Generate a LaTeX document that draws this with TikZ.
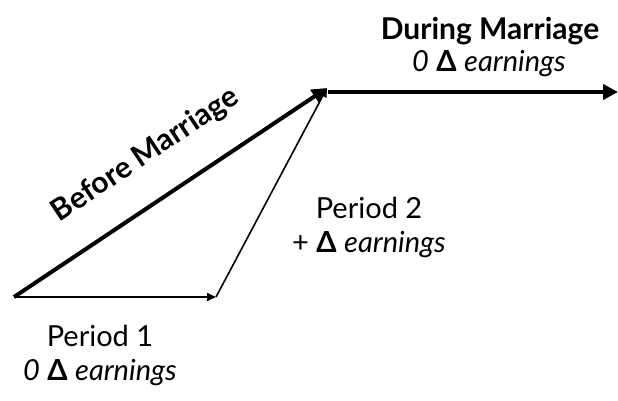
\documentclass[tikz,border=0pt]{standalone}
\usepackage{fontspec}
\setmainfont{Lato}
\usetikzlibrary{arrows.meta}

\begin{document}
\begin{tikzpicture}[x=1pt, y=-1pt]

  \tikzstyle{thickarr} = [line width=4pt, -{Triangle[length=15pt,width=15pt]}]
  \tikzstyle{thinarr}  = [line width=1.6pt, -{Triangle[length=9pt,width=8pt]}]
  \tikzstyle{lbl}      = [align=center, font=\fontsize{29}{34}\selectfont]
  \tikzstyle{hlbl}     = [font=\fontsize{30}{34}\selectfont\bfseries]

  \useasboundingbox (0,0) rectangle (618,400);

  % ---- POINTS ----
  \coordinate (start) at (14,297);
  \coordinate (pone)  at (216,297);
  \coordinate (top)   at (327,88);
  \coordinate (mid)   at (328,92);
  \coordinate (stop)  at (618,92);

  % ---- ARROWS ----
  \draw[thickarr] (start) -- (top)
    node[hlbl, sloped, above=26pt, pos=0.5] (before) {Before Marriage};
  \draw[thinarr] (start) -- (pone);
  \draw[thinarr] (pone) -- (top);
  \draw[thickarr] (mid) -- (stop);

  % ---- LABELS ----
  \node[hlbl] (during) at (490,31) {During Marriage};
  \node[lbl] (duringd) at (489,64) {\textit{0} \textbf{Δ} \textit{earnings}};
  \node[lbl] (ptwo) at (369,227) {Period 2\\+ \textbf{Δ} \textit{earnings}};
  \node[lbl] (pthree) at (100,355) {Period 1\\\textit{0} \textbf{Δ} \textit{earnings}};

\end{tikzpicture}
\end{document}
